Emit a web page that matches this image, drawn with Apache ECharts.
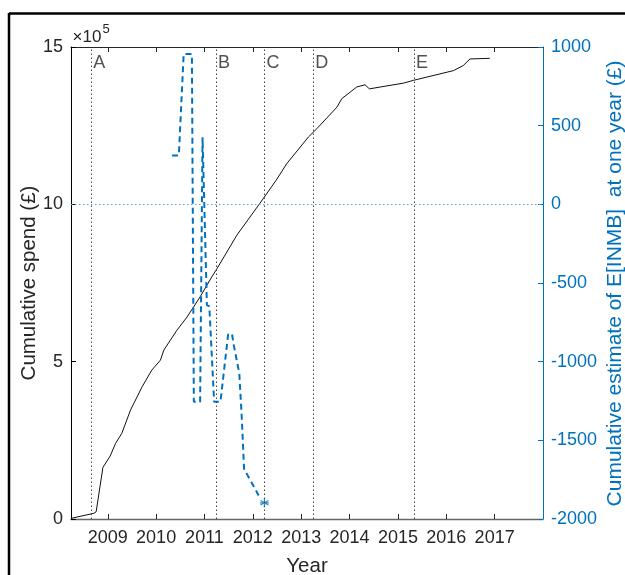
<!DOCTYPE html>
<html><head><meta charset="utf-8">
<script src="https://cdn.jsdelivr.net/npm/echarts@6/dist/echarts.min.js"></script>
<style>html,body{margin:0;padding:0;background:#fff}#c{width:625px;height:575px}</style>
</head><body><div id="c"></div>
<script>
// ---- data ----
const yearTicks = [2009, 2010, 2011, 2012, 2013, 2014, 2015, 2016, 2017];
const spendTicks = [0, 5, 10, 15];
const inmbTicks = [-2000, -1500, -1000, -500, 0, 500, 1000];
// cumulative spend (x 10^5 GBP)
const spendYears = [2008.24, 2008.71, 2008.76, 2008.90, 2009.05, 2009.16, 2009.29, 2009.47, 2009.71, 2009.91, 2010.09, 2010.16, 2010.43, 2010.64, 2010.91, 2011.15, 2011.26, 2011.67, 2012.14, 2012.48, 2012.70, 2013.15, 2013.32, 2013.74, 2013.84, 2014.15, 2014.32, 2014.41, 2015.11, 2015.32, 2016.15, 2016.35, 2016.49, 2016.90];
const spendValues = [0.02, 0.18, 0.23, 1.64, 2.00, 2.40, 2.72, 3.46, 4.20, 4.73, 5.05, 5.37, 6.00, 6.42, 7.06, 7.69, 7.96, 9.02, 10.02, 10.76, 11.29, 12.14, 12.40, 13.09, 13.36, 13.73, 13.80, 13.67, 13.85, 13.94, 14.25, 14.41, 14.62, 14.64];
// cumulative estimate of E[INMB] at one year (GBP)
const inmbYears = [2010.33, 2010.47, 2010.57, 2010.74, 2010.78, 2010.91, 2010.96, 2011.05, 2011.10, 2011.20, 2011.33, 2011.49, 2011.57, 2011.60, 2011.72, 2011.77, 2011.82, 2011.87, 2012.12];
const inmbValues = [311, 311, 955, 955, -1255, -1255, 427, -640, -648, -1255, -1255, -825, -825, -885, -1075, -1350, -1690, -1710, -1850];
const finalYear = [2012.24];
const finalValue = [-1897];
// event markers
const eventYears = [2008.66, 2011.24, 2012.24, 2013.25, 2015.33];
const eventLabels = ['A', 'B', 'C', 'D', 'E'];
const eventLabelLevel = 14.48;

const FONT = '"Liberation Sans", Arial, Helvetica, sans-serif';
const DARK = '#262626';
const BLUE = '#0072BD';

const chart = echarts.init(document.getElementById('c'), null, {renderer: 'canvas'});
const option = {
  animation: false,
  backgroundColor: '#fff',
  textStyle: {fontFamily: FONT},
  grid: {left: 71, right: 82, top: 47, bottom: 56, show: false, containLabel: false, outerBoundsMode: 'none'},
  xAxis: [{
    type: 'value', min: 2008.24, max: 2018, position: 'bottom',
    name: 'Year', nameLocation: 'middle', nameGap: 37, nameMoveOverlap: false,
    nameTextStyle: {fontSize: 20.5, color: DARK, fontFamily: FONT},
    axisLine: {show: true, onZero: false, lineStyle: {color: '#666', width: 1.3}},
    axisTick: {show: true, inside: true, length: 5, customValues: yearTicks, lineStyle: {color: DARK}},
    axisLabel: {show: true, customValues: yearTicks, fontSize: 18, color: DARK, margin: 10, fontFamily: FONT, formatter: v => String(v)},
    splitLine: {show: false}
  }, {
    type: 'value', min: 2008.24, max: 2018, position: 'top',
    axisLine: {show: true, onZero: false, lineStyle: {color: DARK, width: 1}},
    axisTick: {show: true, inside: true, length: 5, customValues: yearTicks, lineStyle: {color: DARK}},
    axisLabel: {show: false},
    splitLine: {show: false}
  }],
  yAxis: [{
    type: 'value', min: 0, max: 15, interval: 5, position: 'left',
    name: 'Cumulative spend (£)', nameLocation: 'middle', nameGap: 31, nameMoveOverlap: false,
    nameTextStyle: {fontSize: 20.5, color: DARK, fontFamily: FONT},
    axisLine: {show: true, onZero: false, lineStyle: {color: '#000', width: 1}},
    axisTick: {show: true, inside: true, length: 5, lineStyle: {color: '#000'}},
    axisLabel: {fontSize: 18, color: DARK, margin: 8, fontFamily: FONT,
      formatter: v => spendTicks.includes(v) ? String(v) : ''},
    splitLine: {show: false}
  }, {
    type: 'value', min: -2000, max: 1000, interval: 500, position: 'right',
    axisLine: {show: true, onZero: false, lineStyle: {color: BLUE, width: 1}},
    axisTick: {show: true, inside: true, length: 5, lineStyle: {color: BLUE}},
    axisLabel: {fontSize: 18, color: BLUE, margin: 8, fontFamily: FONT,
      formatter: v => inmbTicks.includes(v) ? String(v) : ''},
    splitLine: {show: false}
  }],
  series: [{
    name: 'events', type: 'scatter', xAxisIndex: 0, yAxisIndex: 0,
    symbolSize: 0, silent: true,
    data: eventYears.map((x, i) => [x, eventLabelLevel, eventLabels[i]]),
    label: {show: true, position: 'right', distance: 2, formatter: p => p.data[2],
      fontSize: 18, color: DARK, fontFamily: FONT},
    markLine: {silent: true, symbol: ['none', 'none'], label: {show: false},
      lineStyle: {type: [1.5, 2.5], color: '#444', width: 1},
      data: eventYears.map(x => ({xAxis: x}))}
  }, {
    name: 'spend', type: 'line', xAxisIndex: 0, yAxisIndex: 0,
    showSymbol: false, symbol: 'none',
    lineStyle: {color: '#111', width: 1},
    data: spendYears.map((x, i) => [x, spendValues[i]])
  }, {
    name: 'inmb', type: 'line', xAxisIndex: 0, yAxisIndex: 1,
    showSymbol: false, symbol: 'none',
    lineStyle: {color: BLUE, width: 2, type: [6, 4]},
    data: inmbYears.map((x, i) => [x, inmbValues[i]]),
    markLine: {silent: true, symbol: ['none', 'none'], label: {show: false},
      lineStyle: {type: [1.5, 2.5], color: '#5a9fd8', width: 1},
      data: [{yAxis: 0}]}
  }, {
    name: 'final', type: 'scatter', xAxisIndex: 0, yAxisIndex: 1,
    symbol: 'path://M0,-10 L0,10 M-8.66,-5 L8.66,5 M-8.66,5 L8.66,-5 M-10,0 L10,0',
    symbolSize: 9,
    itemStyle: {color: 'none', borderColor: BLUE, borderWidth: 1.3},
    data: finalYear.map((x, i) => [x, finalValue[i]])
  }],
  graphic: [
    {type: 'line', shape: {x1: 9, y1: 13.5, x2: 625, y2: 13.5}, style: {stroke: '#000', lineWidth: 2.5}, silent: true},
    {type: 'line', shape: {x1: 9, y1: 13, x2: 9, y2: 575}, style: {stroke: '#000', lineWidth: 2.5}, silent: true},
    {type: 'text', x: 72.5, y: 37.5, style: {text: '×10', font: '17px ' + FONT, fill: DARK, align: 'left', verticalAlign: 'middle'}, silent: true},
    {type: 'text', x: 102.5, y: 29.5, style: {text: '5', font: '13px ' + FONT, fill: DARK, align: 'left', verticalAlign: 'middle'}, silent: true},
    {type: 'text', x: 615.5, y: 283.5, rotation: Math.PI / 2,
      style: {text: 'Cumulative estimate of E[INMB]  at one year (£)', font: '21px ' + FONT, fill: BLUE, align: 'center', verticalAlign: 'middle'}, silent: true}
  ]
};
chart.setOption(option);
</script>
</body></html>
